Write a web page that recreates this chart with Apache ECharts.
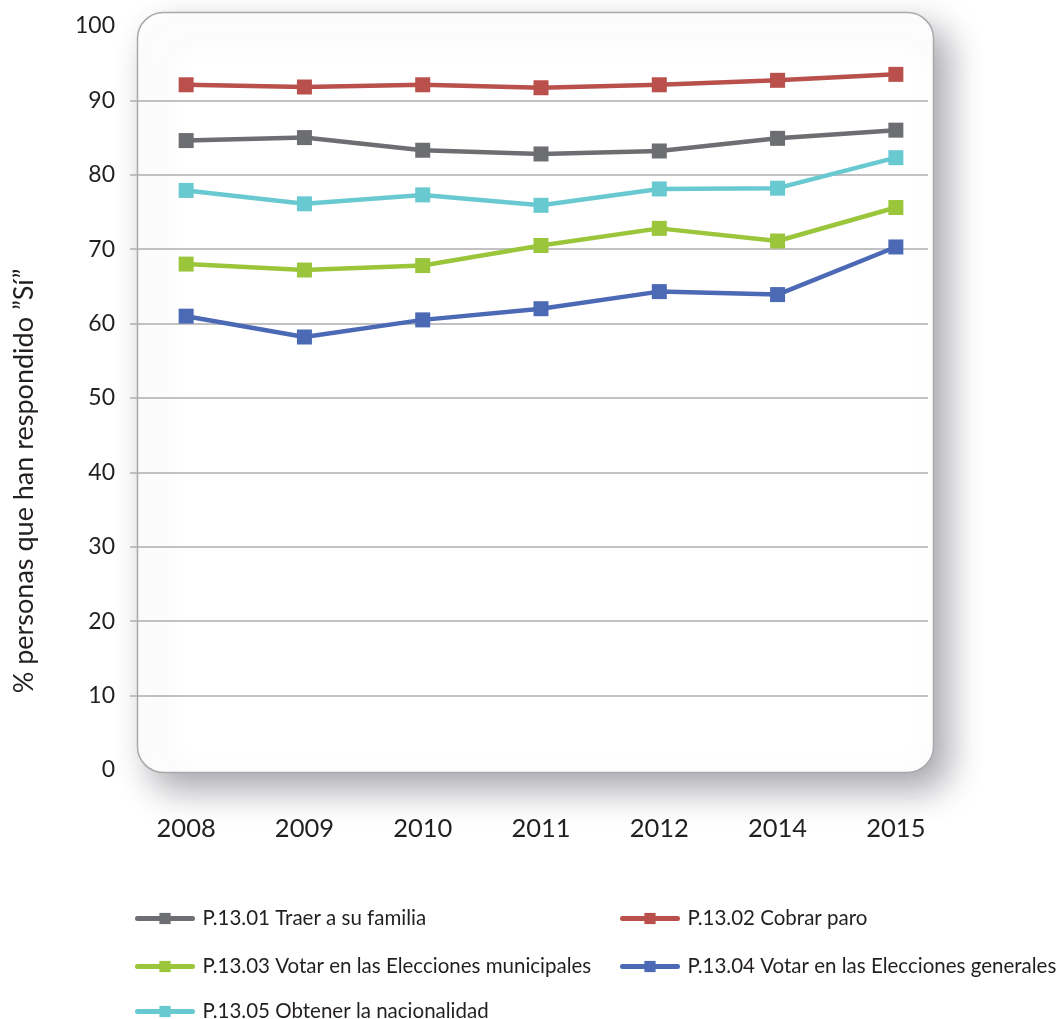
<!DOCTYPE html>
<html><head><meta charset="utf-8">
<script src="https://cdn.jsdelivr.net/npm/echarts@6/dist/echarts.min.js"></script>
<style>html,body{margin:0;padding:0;background:#fff}#c{width:1059px;height:1019px}</style>
</head><body><div id="c"></div>
<script>
var years = ['2008','2009','2010','2011','2012','2014','2015'];
var names = ['P.13.01 Traer a su familia','P.13.02 Cobrar paro','P.13.03 Votar en las Elecciones municipales','P.13.04 Votar en las Elecciones generales','P.13.05 Obtener la nacionalidad'];
var traerFamilia = [84.6, 85.0, 83.3, 82.8, 83.2, 84.9, 86.0];
var cobrarParo = [92.1, 91.8, 92.1, 91.7, 92.1, 92.7, 93.5];
var votarMunicipales = [68.0, 67.2, 67.8, 70.5, 72.8, 71.1, 75.6];
var votarGenerales = [61.0, 58.2, 60.5, 62.0, 64.3, 63.9, 70.3];
var nacionalidad = [77.9, 76.1, 77.3, 75.9, 78.1, 78.2, 82.3];
var yTicks = {min: 0, max: 100, interval: 10};
var colors = ['#6d6e72', '#b9504b', '#9bc53a', '#4b69b4', '#69c9d0'];
var seriesData = [traerFamilia, cobrarParo, votarMunicipales, votarGenerales, nacionalidad];

var FONT = 'Lato';
var chart = echarts.init(document.getElementById('c'), null, {renderer: 'canvas'});
var series = seriesData.map(function (d, i) {
  return {
    name: names[i], type: 'line', data: d, xAxisIndex: 0, yAxisIndex: 0,
    symbol: 'rect', symbolSize: 15, showSymbol: true,
    lineStyle: {color: colors[i], width: 4.5},
    itemStyle: {color: colors[i]},
    z: 5 + i, silent: true, animation: false
  };
});
// legend slots: [left, top] for each series
var legendSlots = [[130, 903], [615, 903], [130, 951], [615, 951], [130, 996]];
var legends = names.map(function (n, i) {
  return {
    orient: 'horizontal', left: legendSlots[i][0], top: legendSlots[i][1],
    itemWidth: 55, itemHeight: 14, data: [n],
    lineStyle: {width: 5, cap: 'round'},
    textStyle: {fontFamily: FONT, fontSize: 20.5, color: '#231f20', padding: [0, 0, 0, 5]},
    selectedMode: false
  };
});
chart.setOption({
  animation: false,
  graphic: [
    {type: 'rect', z: -10, shape: {x: 137.5, y: 12.5, width: 796, height: 760, r: 26},
     style: {fill: '#ffffff', stroke: '#a9a9ad', lineWidth: 1.5,
             shadowBlur: 34, shadowOffsetX: 14, shadowOffsetY: 16, shadowColor: 'rgba(60,60,70,0.45)'}},
    {type: 'text', x: 24, y: 481, rotation: Math.PI / 2, z: 10,
     style: {text: '% personas que han respondido \u201dS\u00ed\u201d', font: '27px ' + FONT, fill: '#231f20',
             textAlign: 'center', textVerticalAlign: 'middle'}}
  ],
  grid: [
    {left: 127, right: 104, top: 26, bottom: 249},
    {left: 130, right: 131, top: 26, bottom: 249}
  ],
  xAxis: [
    {type: 'category', gridIndex: 0, data: years, boundaryGap: true,
     axisLine: {show: false}, axisTick: {show: false}, splitLine: {show: false},
     axisLabel: {fontFamily: FONT, fontSize: 25.5, color: '#231f20', margin: 46}},
    {type: 'category', gridIndex: 1, data: years, show: false}
  ],
  yAxis: [
    {type: 'value', gridIndex: 0, min: yTicks.min, max: yTicks.max, interval: yTicks.interval,
     axisLine: {show: false}, axisTick: {show: false}, splitLine: {show: false},
     axisLabel: {fontFamily: FONT, fontSize: 23, color: '#231f20', margin: 12}},
    {type: 'value', gridIndex: 1, min: yTicks.min, max: yTicks.max, interval: yTicks.interval,
     axisLine: {show: false}, axisTick: {show: false}, axisLabel: {show: false},
     splitLine: {show: true, showMinLine: false, showMaxLine: false, lineStyle: {color: '#aeaeb2', width: 1.6}}}
  ],
  legend: legends,
  series: series
});
</script></body></html>
